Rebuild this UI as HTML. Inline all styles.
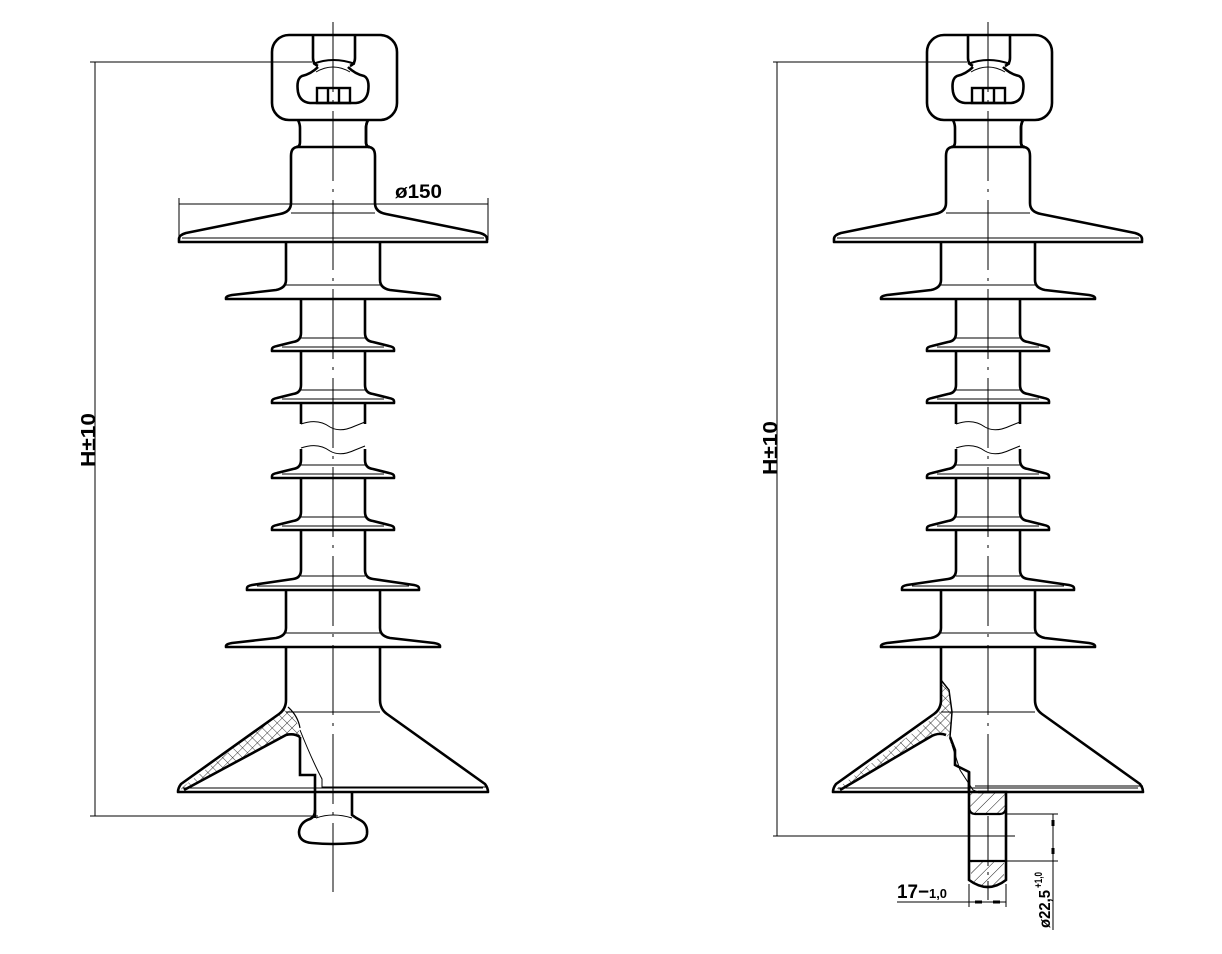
<!DOCTYPE html>
<html><head><meta charset="utf-8"><style>
html,body{margin:0;padding:0;background:#fff;}
svg{display:block;}
text{font-family:"Liberation Sans",sans-serif;font-weight:bold;fill:#000;}
</style></head><body>
<svg width="1222" height="954" viewBox="0 0 1222 954" xmlns="http://www.w3.org/2000/svg">
<defs>
<pattern id="xh" width="7" height="7" patternUnits="userSpaceOnUse" patternTransform="rotate(45)">
<path d="M0 0H7M0 0V7" stroke="#000" stroke-width="0.8" fill="none"/>
</pattern>
<pattern id="dh" width="8" height="8" patternUnits="userSpaceOnUse" patternTransform="rotate(45)">
<path d="M0 0V8" stroke="#000" stroke-width="0.9" fill="none"/>
</pattern>
<g id="half" fill="none" stroke="#000" stroke-width="2.6" stroke-linejoin="round">
 <!-- neck -->
 <path d="M298 120 Q300 124 300 128 V142 Q300 147 296 147"/>
 <!-- section 1 -->
 <path d="M333 147 H298 Q291 147 291 156 V203 Q291 212 280 214 L186 233 Q179 235 179 239 V242 H333"/>
 <path d="M291 213 H333" stroke-width="1"/>
 <path d="M182 238 H333" stroke-width="1"/>
 <!-- section 2 -->
 <path d="M286 242 V280 Q286 288 276 290 L232 295 Q226 296 226 298 V299 H333"/>
 <path d="M286 285 H333" stroke-width="1"/>
 <!-- section 3 -->
 <path d="M301 299 V333 Q301 341 293 342 L277 346 Q272 347 272 349 V351 H333"/>
 <path d="M301 338 H333 M282 347 H333" stroke-width="1"/>
 <!-- section 4 -->
 <path d="M301 351 V385 Q301 393 293 394 L277 398 Q272 399 272 401 V403 H333"/>
 <path d="M301 390 H333 M282 399 H333" stroke-width="1"/>
 <!-- broken body -->
 <path d="M301 403 V424"/>
 <path d="M301 449 V460 Q301 468 293 469 L277 473 Q272 474 272 476 V478 H333"/>
 <path d="M301 465 H333 M282 474 H333" stroke-width="1"/>
 <!-- section 6 -->
 <path d="M301 478 V512 Q301 520 293 521 L277 525 Q272 526 272 528 V530 H333"/>
 <path d="M301 517 H333 M282 526 H333" stroke-width="1"/>
 <!-- section 7 -->
 <path d="M301 530 V570 Q301 578 293 579 L252 585 Q247 586 247 588 V590 H333"/>
 <path d="M301 576 H333 M257 586 H333" stroke-width="1"/>
 <!-- section 8 -->
 <path d="M286 590 V628 Q286 636 276 638 L232 643 Q226 644 226 646 V647 H333"/>
 <path d="M286 633 H333" stroke-width="1"/>
 <!-- section 9 -->
 <path d="M286 647 V700 Q286 709 279 714 L181 784 Q178 788 178 792 H333"/>
 <path d="M286 712 H333" stroke-width="1"/>
 <path d="M183 788 H333" stroke-width="1"/>
</g>
<g id="cap" fill="none" stroke="#000" stroke-width="2.6">
 <rect x="272" y="35" width="125" height="85" rx="17"/>
 <path d="M368 120 Q366 124 366 128 V142 Q366 147 370 147 H368"/>
 <path d="M313 35 V58 Q313 64 318 66 M355 35 V58 Q355 64 350 66"/>
 <path d="M313 64 Q333 56 355 64" stroke-width="2"/>
 <path d="M316 72 Q333 62 350 72" stroke-width="1"/>
 <path d="M318 67 Q311 74 302 76 Q296 79 298 92 Q300 102 310 103 H356 Q366 102 368 92 Q370 79 364 76 Q355 74 348 67"/>
 <rect x="317" y="88" width="33" height="15" stroke-width="2.4"/>
 <path d="M328 88 V103 M339 88 V103" stroke-width="2.4"/>
</g>
</defs>

<!-- LEFT INSULATOR -->
<use href="#cap"/>
<use href="#half"/>
<use href="#half" transform="translate(666,0) scale(-1,1)"/>
<!-- waves -->
<path d="M301 424 Q318 418 330 427 Q340 433 355 426 L365 422 M301 448 Q318 442 330 451 Q340 457 355 450 L365 446" fill="none" stroke="#000" stroke-width="1"/>
<!-- cutaway left -->
<path d="M286 707 Q292 712 298 725 L300 738 Q294 735 288 735 Q282 736 276 740 L186 790 L180 789 L280 713 Q285 710 286 707 Z" fill="url(#xh)" stroke="none"/>
<path d="M300 737 Q294 733 286 735 L184 790" fill="none" stroke="#000" stroke-width="2.6"/>
<path d="M288 707 Q298 716 300 728" fill="none" stroke="#000" stroke-width="1.2"/>
<path d="M300 737 V775 H315 V818" fill="none" stroke="#000" stroke-width="2.6"/>
<path d="M300 730 Q312 760 322 779 V787 H488" fill="none" stroke="#000" stroke-width="1"/>
<path d="M352 792 V815 Q356 818 360 820 Q368 824 367 834 Q366 842 354 843 Q333 845 312 843 Q299 842 299 832 Q300 822 310 819 Q315 817 315 810" fill="none" stroke="#000" stroke-width="2.6"/>
<path d="M316 818 Q333 812 352 818" fill="none" stroke="#000" stroke-width="1"/>
<rect x="200" y="788" width="280" height="6" fill="#fff" opacity="0"/>
<!-- centerline -->
<line x1="333" y1="22" x2="333" y2="892" stroke="#000" stroke-width="1" stroke-dasharray="70 8 3 8"/>
<!-- dimensions left -->
<g stroke="#000" stroke-width="1" fill="none">
 <line x1="90" y1="62" x2="312" y2="62"/>
 <line x1="90" y1="816" x2="318" y2="816"/>
 <line x1="95" y1="62" x2="95" y2="816"/>
 <line x1="179" y1="198" x2="179" y2="240"/>
 <line x1="488" y1="198" x2="488" y2="240"/>
 <line x1="179" y1="204" x2="488" y2="204"/>
</g>
<text x="0" y="0" font-size="20" transform="translate(95,467) rotate(-90)" textLength="54" lengthAdjust="spacingAndGlyphs">H±10</text>
<text x="395" y="198" font-size="19" textLength="47" lengthAdjust="spacingAndGlyphs">ø150</text>

<!-- RIGHT INSULATOR -->
<g transform="translate(655,0)">
<use href="#cap"/>
<use href="#half"/>
<use href="#half" transform="translate(666,0) scale(-1,1)"/>
<path d="M301 424 Q318 418 330 427 Q340 433 355 426 L365 422 M301 448 Q318 442 330 451 Q340 457 355 450 L365 446" fill="none" stroke="#000" stroke-width="1"/>
<line x1="333" y1="22" x2="333" y2="792" stroke="#000" stroke-width="1" stroke-dasharray="70 8 3 8"/>
</g>
<!-- right cutaway -->
<path d="M941 680 L949 690 L952 712 L950 737 L955 745 L956 752 L946 735 Q938 733 930 737 L842 790 L836 789 L936 716 Q942 710 941 700 Z" fill="url(#xh)" stroke="none"/>
<path d="M941 680 L949 690 L952 712 L950 737" fill="none" stroke="#000" stroke-width="1.5"/>
<path d="M946 735 Q938 732 930 737 L840 790" fill="none" stroke="#000" stroke-width="2.6"/>
<path d="M950 737 L955 750 V765 L969 772 V792" fill="none" stroke="#000" stroke-width="2.6"/>
<path d="M952 745 L960 770 L973 790 L978 792" fill="none" stroke="#000" stroke-width="1"/>
<path d="M975 786 H1143" fill="none" stroke="#000" stroke-width="1"/>
<!-- rod -->
<path d="M969 792 H1006 V813 H969 Z" fill="url(#dh)" stroke="none"/>
<path d="M971 861 H1004 V880 Q988 892 971 880 Z" fill="url(#dh)" stroke="none"/>
<path d="M969 772 V880 Q988 894 1006 880 V792 H978" fill="none" stroke="#000" stroke-width="2.6"/>
<path d="M969 808 Q970 814 975 814 H1000 Q1005 814 1006 808 M969 861 H1006" fill="none" stroke="#000" stroke-width="2.2"/>
<line x1="988" y1="816" x2="988" y2="900" stroke="#000" stroke-width="1" stroke-dasharray="50 6 3 6"/>
<!-- right dimensions -->
<g stroke="#000" stroke-width="1" fill="none">
 <line x1="773" y1="62" x2="967" y2="62"/>
 <line x1="773" y1="836" x2="1015" y2="836"/>
 <line x1="777" y1="62" x2="777" y2="836"/>
 <line x1="1006" y1="814" x2="1058" y2="814"/>
 <line x1="1006" y1="861" x2="1058" y2="861"/>
 <line x1="1053" y1="814" x2="1053" y2="930"/>
 <line x1="897" y1="902" x2="1006" y2="902"/>
 <line x1="969" y1="884" x2="969" y2="907"/>
 <line x1="1006" y1="884" x2="1006" y2="907"/>
</g>
<path d="M1053 820 V826 M1053 848 V854 M975 902 H982 M993 902 H1000" stroke="#000" stroke-width="3"/>
<text x="0" y="0" font-size="20" transform="translate(777,475) rotate(-90)" textLength="54" lengthAdjust="spacingAndGlyphs">H±10</text>
<text x="897" y="898" font-size="19" textLength="32" lengthAdjust="spacingAndGlyphs">17−</text>
<text x="929" y="898" font-size="13" textLength="18" lengthAdjust="spacingAndGlyphs">1,0</text>
<text x="0" y="0" font-size="16" transform="translate(1050,928) rotate(-90)" textLength="38" lengthAdjust="spacingAndGlyphs">ø22,5</text>
<text x="0" y="0" font-size="11" transform="translate(1042,888) rotate(-90)" textLength="16" lengthAdjust="spacingAndGlyphs">+1,0</text>
</svg>
</body></html>
